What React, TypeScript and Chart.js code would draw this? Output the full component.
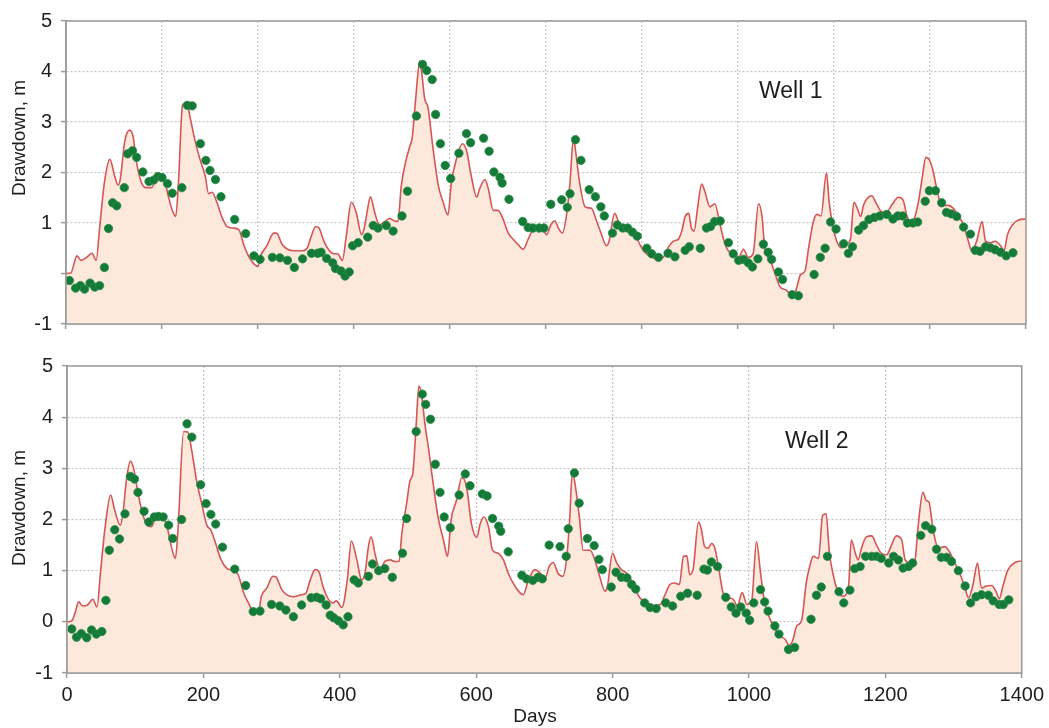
import React, { useEffect, useRef } from "react";
import { Chart, registerables } from "chart.js";

Chart.register(...registerables);

// ---------------- DATA ----------------
const well1SimDays = [0, 7, 16, 22, 30, 38, 44, 49, 56, 64, 71, 76, 79, 86, 93, 98, 103, 110, 117, 125, 132, 138, 144, 149, 154, 160, 164, 170, 176, 181, 188, 195, 203, 208, 213, 220, 227, 235, 244, 252, 259, 266, 274, 280, 283, 293, 303, 307, 315, 323, 332, 345, 352, 357, 364, 369, 376, 384, 391, 396, 403, 409, 416, 423, 431, 435, 440, 444, 450, 457, 465, 472, 479, 484, 489, 496, 501, 505, 510, 516, 519, 523, 528, 535, 543, 550, 557, 562, 569, 578, 584, 591, 599, 603, 611, 616, 623, 630, 637, 645, 652, 659, 667, 674, 681, 691, 696, 701, 707, 713, 718, 724, 730, 735, 740, 743, 749, 757, 766, 774, 781, 788, 792, 800, 808, 815, 825, 832, 842, 852, 861, 871, 878, 886, 893, 898, 903, 908, 912, 916, 921, 927, 932, 939, 946, 954, 959, 966, 973, 981, 988, 995, 1002, 1010, 1015, 1019, 1027, 1034, 1041, 1049, 1055, 1061, 1066, 1071, 1078, 1083, 1090, 1095, 1101, 1109, 1113, 1118, 1124, 1131, 1138, 1144, 1149, 1154, 1159, 1163, 1168, 1175, 1182, 1190, 1197, 1204, 1214, 1221, 1226, 1231, 1236, 1243, 1249, 1254, 1259, 1264, 1270, 1277, 1287, 1294, 1302, 1309, 1316, 1321, 1328, 1336, 1341, 1348, 1355, 1363, 1368, 1373, 1380, 1389, 1400];
const well1SimValues = [0.0, 0.01, 0.35, 0.26, 0.32, 0.4, 0.26, 0.9, 1.8, 2.26, 1.93, 1.75, 1.86, 2.64, 2.84, 2.7, 2.19, 1.8, 1.7, 1.7, 1.93, 1.93, 1.83, 1.54, 1.29, 1.13, 1.8, 3.34, 3.38, 3.09, 2.64, 2.28, 1.93, 1.58, 1.61, 1.41, 1.13, 0.93, 0.9, 0.87, 0.58, 0.35, 0.19, 0.14, 0.32, 0.55, 0.8, 0.8, 0.58, 0.48, 0.45, 0.45, 0.51, 0.71, 0.93, 0.9, 0.64, 0.45, 0.39, 0.39, 0.26, 0.77, 1.41, 1.22, 0.77, 0.9, 1.29, 1.52, 1.22, 0.96, 1.03, 1.09, 1.04, 1.03, 1.74, 2.25, 2.5, 2.7, 3.47, 4.21, 3.95, 3.47, 3.28, 2.5, 1.74, 1.41, 1.16, 1.8, 2.25, 2.57, 2.44, 1.93, 1.51, 1.67, 1.86, 1.67, 1.25, 1.25, 1.09, 0.8, 0.68, 0.58, 0.48, 0.68, 0.87, 0.96, 0.87, 0.77, 0.96, 1.04, 0.9, 0.8, 1.16, 1.8, 2.67, 2.44, 1.8, 1.32, 1.29, 1.03, 0.77, 0.55, 0.64, 1.19, 0.96, 0.93, 0.87, 0.71, 0.45, 0.35, 0.29, 0.32, 0.51, 0.64, 0.68, 0.84, 1.13, 1.19, 0.9, 0.84, 1.29, 1.77, 1.61, 1.32, 1.38, 0.96, 0.68, 0.45, 0.42, 0.32, 0.48, 0.32, 0.39, 1.38, 1.13, 0.51, 0.26, 0.0, -0.26, -0.32, -0.39, -0.45, -0.26, -0.03, 0.06, 0.51, 1.03, 1.17, 1.14, 1.99, 1.41, 0.96, 0.64, 0.51, 0.58, 0.68, 1.41, 1.29, 1.13, 1.35, 1.48, 1.54, 1.38, 1.22, 1.22, 1.35, 1.51, 1.45, 1.16, 1.03, 1.06, 1.41, 1.93, 2.3, 2.25, 2.06, 1.67, 1.35, 1.35, 1.29, 1.13, 0.96, 0.64, 0.44, 0.64, 1.03, 0.64, 0.61, 0.64, 0.55, 0.45, 0.77, 0.96, 1.06, 1.08];

const well1ObsDays = [5, 14, 21, 27, 35, 42, 49, 56, 62, 68, 74, 85, 90, 97, 103, 112, 121, 128, 134, 140, 148, 155, 169, 177, 184, 196, 204, 210, 218, 226, 246, 262, 274, 283, 301, 312, 323, 333, 345, 358, 367, 372, 380, 389, 393, 401, 407, 413, 418, 426, 440, 448, 455, 467, 477, 490, 498, 511, 520, 526, 534, 539, 546, 553, 561, 573, 584, 590, 609, 617, 624, 633, 636, 646, 666, 674, 681, 690, 697, 707, 723, 731, 735, 743, 751, 763, 772, 780, 785, 797, 804, 812, 819, 826, 833, 847, 854, 864, 878, 888, 903, 909, 925, 934, 940, 946, 954, 966, 973, 981, 988, 995, 1001, 1009, 1017, 1024, 1029, 1039, 1045, 1059, 1068, 1091, 1100, 1107, 1115, 1123, 1134, 1141, 1147, 1156, 1163, 1171, 1179, 1187, 1197, 1206, 1213, 1220, 1227, 1235, 1242, 1253, 1259, 1268, 1277, 1284, 1291, 1299, 1309, 1319, 1326, 1333, 1341, 1348, 1355, 1363, 1371, 1381];
const well1ObsValues = [-0.14, -0.29, -0.24, -0.31, -0.19, -0.27, -0.24, 0.12, 0.89, 1.4, 1.34, 1.7, 2.37, 2.43, 2.3, 2.01, 1.82, 1.85, 1.92, 1.9, 1.78, 1.59, 1.7, 3.33, 3.32, 2.57, 2.24, 2.04, 1.86, 1.52, 1.07, 0.79, 0.35, 0.28, 0.32, 0.31, 0.26, 0.12, 0.29, 0.4, 0.4, 0.42, 0.3, 0.21, 0.1, 0.05, -0.05, 0.03, 0.55, 0.61, 0.72, 0.95, 0.9, 0.95, 0.84, 1.14, 1.63, 3.12, 4.14, 4.02, 3.84, 3.15, 2.57, 2.14, 1.88, 2.38, 2.77, 2.59, 2.68, 2.42, 2.01, 1.9, 1.79, 1.47, 1.03, 0.91, 0.9, 0.9, 0.9, 1.37, 1.46, 1.31, 1.58, 2.65, 2.24, 1.66, 1.52, 1.32, 1.14, 0.8, 0.96, 0.9, 0.9, 0.82, 0.74, 0.5, 0.39, 0.32, 0.4, 0.33, 0.46, 0.53, 0.5, 0.9, 0.93, 1.03, 1.04, 0.61, 0.39, 0.26, 0.28, 0.21, 0.13, 0.29, 0.58, 0.42, 0.28, 0.03, -0.12, -0.42, -0.44, -0.02, 0.32, 0.5, 1.02, 0.88, 0.59, 0.4, 0.53, 0.86, 0.95, 1.07, 1.11, 1.14, 1.17, 1.08, 1.14, 1.14, 1.0, 1.0, 1.02, 1.43, 1.64, 1.64, 1.4, 1.21, 1.18, 1.13, 0.92, 0.78, 0.46, 0.44, 0.53, 0.51, 0.47, 0.42, 0.35, 0.41];

const well2SimDays = [0, 7, 12, 17, 23, 30, 38, 44, 49, 56, 64, 70, 78, 82, 87, 93, 98, 103, 109, 117, 124, 131, 139, 144, 149, 153, 159, 163, 171, 177, 183, 190, 197, 205, 211, 218, 225, 234, 244, 251, 259, 266, 273, 281, 285, 293, 302, 306, 315, 322, 332, 344, 350, 356, 364, 369, 376, 383, 390, 395, 403, 411, 417, 425, 432, 437, 442, 446, 452, 459, 466, 474, 481, 487, 491, 498, 503, 507, 512, 516, 520, 525, 530, 537, 544, 552, 558, 563, 571, 579, 586, 593, 601, 606, 611, 618, 624, 632, 640, 647, 654, 662, 669, 676, 686, 694, 701, 707, 713, 720, 727, 733, 737, 741, 745, 751, 757, 767, 774, 781, 789, 792, 800, 806, 813, 823, 830, 840, 850, 860, 870, 877, 884, 891, 898, 904, 909, 913, 918, 926, 930, 935, 940, 945, 950, 956, 962, 970, 977, 983, 990, 997, 1004, 1011, 1017, 1023, 1031, 1038, 1045, 1053, 1059, 1064, 1070, 1077, 1084, 1089, 1094, 1102, 1108, 1113, 1118, 1124, 1131, 1138, 1146, 1150, 1156, 1160, 1165, 1172, 1180, 1187, 1194, 1202, 1209, 1216, 1224, 1229, 1236, 1243, 1248, 1255, 1260, 1264, 1270, 1278, 1287, 1294, 1302, 1309, 1316, 1322, 1329, 1335, 1341, 1348, 1356, 1362, 1367, 1373, 1380, 1390, 1400];
const well2SimValues = [0.0, 0.02, 0.18, 0.39, 0.31, 0.33, 0.44, 0.29, 0.95, 1.86, 2.48, 2.18, 1.89, 2.11, 2.76, 3.14, 2.98, 2.6, 2.21, 1.89, 1.86, 2.11, 2.06, 1.98, 1.73, 1.47, 1.24, 1.86, 3.72, 3.71, 3.34, 2.76, 2.34, 1.89, 1.79, 1.53, 1.24, 1.05, 1.0, 0.92, 0.57, 0.37, 0.21, 0.21, 0.5, 0.66, 0.89, 0.88, 0.63, 0.53, 0.49, 0.53, 0.55, 0.79, 1.02, 0.99, 0.66, 0.45, 0.37, 0.41, 0.28, 0.82, 1.58, 1.21, 0.82, 0.95, 1.47, 1.66, 1.31, 1.02, 1.18, 1.21, 1.18, 1.18, 1.73, 2.31, 2.76, 2.89, 3.85, 4.61, 4.43, 3.85, 3.4, 2.69, 2.05, 1.6, 1.28, 1.98, 2.37, 2.82, 2.63, 1.92, 1.65, 1.92, 2.05, 1.86, 1.4, 1.34, 1.21, 0.95, 0.76, 0.6, 0.53, 0.79, 1.02, 0.95, 0.86, 1.08, 1.16, 0.95, 0.89, 1.28, 1.98, 2.92, 2.69, 2.08, 1.4, 1.4, 1.21, 0.89, 0.6, 0.66, 1.34, 1.15, 1.02, 0.92, 0.73, 0.47, 0.37, 0.31, 0.34, 0.53, 0.73, 0.76, 0.73, 1.28, 1.29, 0.92, 1.02, 1.95, 1.82, 1.47, 1.44, 1.53, 1.44, 1.02, 0.57, 0.47, 0.44, 0.31, 0.57, 0.34, 0.41, 1.57, 0.95, 0.37, 0.05, -0.14, -0.27, -0.34, -0.46, -0.37, -0.08, 0.02, 0.76, 1.08, 1.28, 1.24, 2.08, 2.11, 1.34, 0.89, 0.57, 0.5, 0.7, 1.6, 1.34, 1.21, 1.44, 1.66, 1.68, 1.5, 1.34, 1.31, 1.5, 1.68, 1.6, 1.21, 1.15, 1.18, 1.86, 2.53, 2.37, 2.34, 1.79, 1.44, 1.47, 1.37, 1.15, 0.95, 0.7, 0.47, 0.76, 1.15, 0.66, 0.7, 0.71, 0.6, 0.45, 0.73, 1.02, 1.16, 1.19];

const well2ObsDays = [7, 14, 21, 29, 36, 43, 51, 57, 62, 70, 77, 85, 93, 99, 104, 113, 120, 128, 134, 141, 149, 155, 168, 176, 183, 196, 204, 211, 218, 228, 246, 262, 273, 283, 300, 312, 321, 332, 344, 358, 366, 372, 380, 386, 391, 398, 405, 412, 421, 427, 442, 448, 457, 466, 477, 492, 498, 512, 521, 526, 533, 540, 547, 553, 562, 575, 584, 591, 609, 616, 624, 633, 636, 647, 667, 674, 683, 691, 697, 707, 723, 732, 735, 744, 751, 763, 773, 780, 785, 798, 805, 813, 821, 828, 834, 847, 855, 864, 878, 888, 900, 910, 924, 934, 939, 945, 954, 966, 974, 981, 988, 996, 1001, 1007, 1017, 1023, 1028, 1038, 1044, 1058, 1067, 1091, 1099, 1106, 1115, 1132, 1139, 1148, 1155, 1163, 1171, 1180, 1187, 1194, 1205, 1212, 1219, 1226, 1234, 1240, 1252, 1259, 1268, 1275, 1282, 1290, 1297, 1307, 1317, 1325, 1333, 1341, 1351, 1358, 1367, 1373, 1381];
const well2ObsValues = [-0.14, -0.3, -0.23, -0.31, -0.16, -0.24, -0.19, 0.42, 1.4, 1.8, 1.62, 2.11, 2.84, 2.79, 2.53, 2.16, 1.95, 2.05, 2.06, 2.05, 1.89, 1.63, 2.0, 3.87, 3.61, 2.68, 2.31, 2.1, 1.91, 1.46, 1.03, 0.71, 0.2, 0.21, 0.34, 0.31, 0.23, 0.1, 0.33, 0.47, 0.48, 0.45, 0.33, 0.13, 0.08, 0.02, -0.06, 0.1, 0.82, 0.76, 0.89, 1.13, 1.0, 1.04, 0.87, 1.34, 2.02, 3.72, 4.45, 4.25, 3.96, 3.08, 2.53, 2.05, 1.84, 2.48, 2.89, 2.66, 2.5, 2.46, 2.02, 1.87, 1.77, 1.37, 0.91, 0.84, 0.81, 0.87, 0.84, 1.5, 1.47, 1.28, 1.82, 2.91, 2.32, 1.63, 1.49, 1.22, 1.02, 0.68, 0.97, 0.87, 0.86, 0.73, 0.64, 0.37, 0.28, 0.26, 0.37, 0.31, 0.5, 0.56, 0.52, 1.03, 1.01, 1.17, 1.08, 0.48, 0.29, 0.17, 0.29, 0.17, 0.03, 0.37, 0.63, 0.39, 0.21, -0.08, -0.24, -0.54, -0.5, 0.05, 0.52, 0.68, 1.28, 0.59, 0.37, 0.62, 1.04, 1.08, 1.28, 1.28, 1.28, 1.24, 1.15, 1.28, 1.21, 1.05, 1.08, 1.15, 1.69, 1.88, 1.81, 1.42, 1.26, 1.26, 1.18, 1.0, 0.7, 0.37, 0.49, 0.53, 0.52, 0.41, 0.34, 0.34, 0.43];

const topXGridDays = [0, 140, 280, 420, 560, 700, 840, 980, 1120, 1260, 1400];
const bottomXTicks = [0, 200, 400, 600, 800, 1000, 1200, 1400];
const bottomXTickLabels = ["0", "200", "400", "600", "800", "1000", "1200", "1400"];
const yTicks = [-1, 0, 1, 2, 3, 4, 5];
const topYTickLabels = ["-1", "", "1", "2", "3", "4", "5"];
const bottomYTickLabels = ["-1", "0", "1", "2", "3", "4", "5"];
const yAxisTitle = "Drawdown, m";
const xAxisTitle = "Days";
const well1Label = "Well 1";
const well2Label = "Well 2";

// ---------------- STYLE ----------------
const FONT = "'Liberation Sans', Arial, Helvetica, sans-serif";
const TEXT = "#1e1e1e";
const AXIS = "#9a9a9a";
const GRID = "#c4c4c4";
const RED = "#d45656";
const FILL = "#fde8dc";
const GREEN = "#147a38";

const framePlugin = {
  id: "frame",
  afterDraw(chart: any, _args: any, opts: any) {
    const { ctx, chartArea: a } = chart;
    ctx.save();
    ctx.strokeStyle = AXIS;
    ctx.lineWidth = 1.5;
    ctx.strokeRect(a.left, a.top, a.right - a.left, a.bottom - a.top);
    ctx.fillStyle = TEXT;
    for (const t of opts.texts || []) {
      ctx.save();
      ctx.font = `${t.size}px ${FONT}`;
      ctx.textAlign = t.align;
      ctx.textBaseline = "middle";
      ctx.translate(t.x, t.y);
      if (t.rotate) ctx.rotate(-Math.PI / 2);
      ctx.fillText(t.text, 0, 0);
      ctx.restore();
    }
    ctx.restore();
  },
};

type PanelSpec = {
  simDays: number[];
  simValues: number[];
  obsDays: number[];
  obsValues: number[];
  xTicks: number[];
  xLabels: string[] | null;
  yLabels: string[];
  yWidth: number;
  xHeight: number;
  padding: { top: number; right: number; bottom: number; left: number };
  texts: any[];
};

function panelConfig(p: PanelSpec): any {
  return {
    type: "line",
    data: {
      datasets: [
        {
          label: "Observed",
          data: p.obsDays.map((d, i) => ({ x: d, y: p.obsValues[i] })),
          showLine: false,
          pointRadius: 4.2,
          pointBackgroundColor: GREEN,
          pointBorderColor: "#2b8c4a",
          pointBorderWidth: 0.8,
          fill: false,
        },
        {
          label: "Simulated",
          data: p.simDays.map((d, i) => ({ x: d, y: p.simValues[i] })),
          borderColor: RED,
          borderWidth: 1.6,
          pointRadius: 0,
          fill: "start",
          backgroundColor: FILL,
          cubicInterpolationMode: "monotone",
        },
      ],
    },
    options: {
      animation: false,
      responsive: false,
      events: [],
      layout: { padding: p.padding },
      plugins: {
        legend: { display: false },
        tooltip: { enabled: false },
        frame: { texts: p.texts },
      },
      scales: {
        x: {
          type: "linear",
          min: 0,
          max: 1400,
          afterBuildTicks: (s: any) => {
            s.ticks = p.xTicks.map((v) => ({ value: v }));
          },
          afterFit: (s: any) => {
            s.height = p.xHeight;
          },
          grid: {
            color: GRID,
            lineWidth: 1.2,
            tickLength: 5,
            tickColor: AXIS,
            tickWidth: 1.5,
          },
          border: { display: true, color: AXIS, width: 1.5, dash: [2, 2] },
          ticks: {
            display: p.xLabels !== null,
            autoSkip: false,
            maxRotation: 0,
            padding: 5,
            color: TEXT,
            font: { family: FONT, size: 20 },
            callback: (v: any) => {
              const i = p.xTicks.indexOf(Number(v));
              return p.xLabels && i >= 0 ? p.xLabels[i] : "";
            },
          },
        },
        y: {
          min: -1,
          max: 5,
          afterBuildTicks: (s: any) => {
            s.ticks = yTicks.map((v) => ({ value: v }));
          },
          afterFit: (s: any) => {
            s.width = p.yWidth;
          },
          grid: {
            color: GRID,
            lineWidth: 1.2,
            tickLength: 5,
            tickColor: AXIS,
            tickWidth: 1.5,
          },
          border: { display: true, color: AXIS, width: 1.5, dash: [2, 2] },
          ticks: {
            padding: 9,
            color: TEXT,
            font: { family: FONT, size: 20 },
            callback: (v: any) => {
              const i = yTicks.indexOf(Number(v));
              return i >= 0 ? p.yLabels[i] : "";
            },
          },
        },
      },
    },
    plugins: [framePlugin],
  };
}

export default function App() {
  const topRef = useRef<HTMLCanvasElement | null>(null);
  const botRef = useRef<HTMLCanvasElement | null>(null);

  useEffect(() => {
    const top = new Chart(
      topRef.current as HTMLCanvasElement,
      panelConfig({
        simDays: well1SimDays,
        simValues: well1SimValues,
        obsDays: well1ObsDays,
        obsValues: well1ObsValues,
        xTicks: topXGridDays,
        xLabels: null,
        yLabels: topYTickLabels,
        yWidth: 66,
        xHeight: 14,
        padding: { top: 20, right: 23, bottom: 0, left: 0 },
        texts: [
          { text: yAxisTitle, x: 19.5, y: 138, size: 19, align: "center", rotate: true },
          { text: well1Label, x: 759, y: 92, size: 23, align: "left" },
        ],
      })
    );
    const bot = new Chart(
      botRef.current as HTMLCanvasElement,
      panelConfig({
        simDays: well2SimDays,
        simValues: well2SimValues,
        obsDays: well2ObsDays,
        obsValues: well2ObsValues,
        xTicks: bottomXTicks,
        xLabels: bottomXTickLabels,
        yLabels: bottomYTickLabels,
        yWidth: 67,
        xHeight: 55,
        padding: { top: 19, right: 27, bottom: 0, left: 0 },
        texts: [
          { text: yAxisTitle, x: 19.5, y: 163, size: 19, align: "center", rotate: true },
          { text: well2Label, x: 785, y: 97, size: 23, align: "left" },
          { text: xAxisTitle, x: 535, y: 372, size: 19, align: "center" },
        ],
      })
    );
    return () => {
      top.destroy();
      bot.destroy();
    };
  }, []);

  return (
    <div
      style={{
        position: "fixed",
        left: 0,
        top: 0,
        width: 1049,
        height: 728,
        background: "#ffffff",
        overflow: "hidden",
      }}
    >
      <canvas
        ref={topRef}
        width={1049}
        height={345}
        style={{ position: "absolute", left: 0, top: 0, width: 1049, height: 345 }}
      />
      <canvas
        ref={botRef}
        width={1049}
        height={383}
        style={{ position: "absolute", left: 0, top: 345, width: 1049, height: 383 }}
      />
    </div>
  );
}
